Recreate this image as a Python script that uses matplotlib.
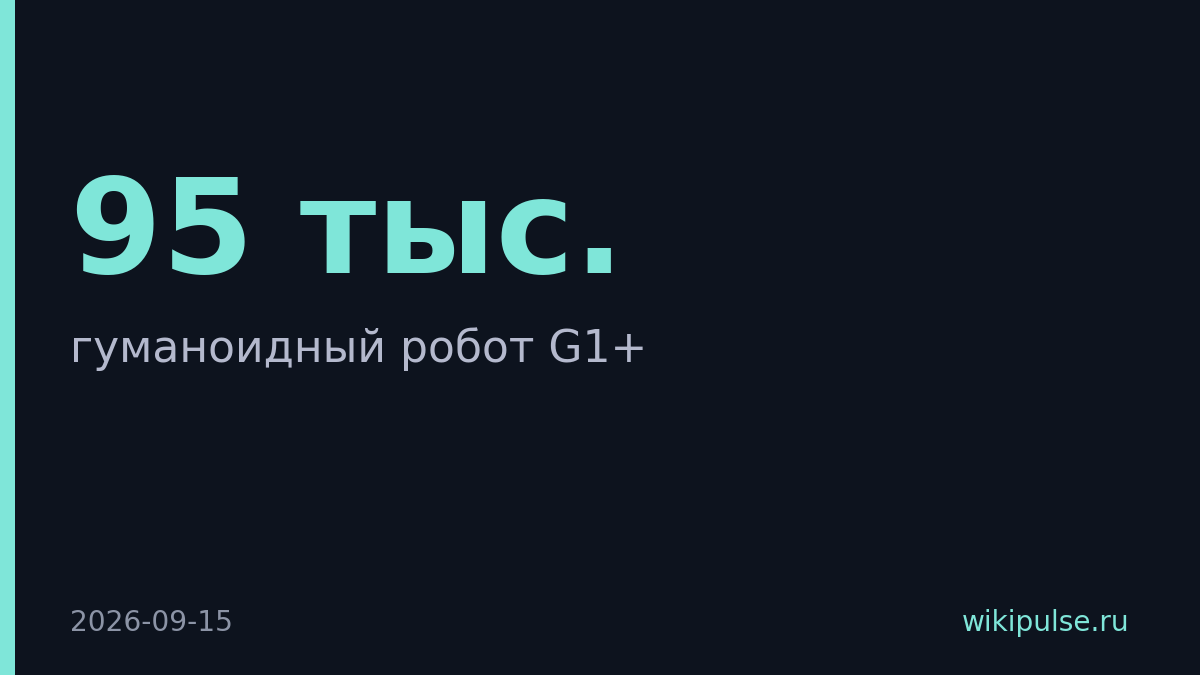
import matplotlib
matplotlib.use("Agg")
import matplotlib.pyplot as plt
from matplotlib.patches import Rectangle

value_text = "95 тыс."
subtitle = "гуманоидный робот G1+"
date_text = "2026-09-15"
site = "wikipulse.ru"

W, H = 1200, 675
bg = "#0d131e"
accent = "#7fe6d9"

fig = plt.figure(figsize=(12, 6.75), dpi=100)
fig.patch.set_facecolor(bg)
ax = fig.add_axes([0, 0, 1, 1])
ax.set_xlim(0, W)
ax.set_ylim(H, 0)
ax.axis("off")
ax.set_facecolor(bg)

ax.add_patch(Rectangle((0, 0), 15, H, color=accent, lw=0))

px = 72 / 100
ax.text(70, 273, value_text, color=accent, fontsize=132 * px, fontweight="bold",
        family="DejaVu Sans", va="baseline", ha="left")
ax.text(70, 362, subtitle, color="#b4b9cd", fontsize=44 * px,
        family="DejaVu Sans", va="baseline", ha="left")
ax.text(70, 631, date_text, color="#8c94a6", fontsize=28 * px,
        family="DejaVu Sans", va="baseline", ha="left")
ax.text(1129, 631, site, color=accent, fontsize=28 * px,
        family="DejaVu Sans", va="baseline", ha="right")

fig.savefig("out.png", dpi=100, facecolor=bg)
